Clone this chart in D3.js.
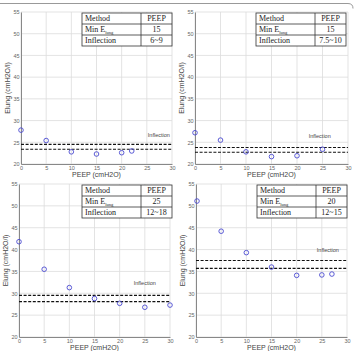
<!DOCTYPE html>
<html>
<head>
<meta charset="utf-8">
<script src="https://cdn.jsdelivr.net/npm/d3@7"></script>
<style>
  body { margin: 0; background: #fff; }
  svg { display: block; }
  .tick text { font-family: "Liberation Sans", Arial, sans-serif; font-size: 5.5px; fill: #666; }
  .title { font-family: "Liberation Sans", Arial, sans-serif; font-size: 7px; fill: #444; }
  .tbl { font-family: "Liberation Serif", "Times New Roman", serif; font-size: 8px; fill: #222; }
</style>
</head>
<body>
<svg id="chart" width="356" height="351"></svg>
<script>
// values
const xTicks = [0, 5, 10, 15, 20, 25, 30];
const yTicks = [20, 25, 30, 35, 40, 45, 50, 55];

const peep1 = [0, 5, 10, 15, 20, 22];
const elung1 = [27.8, 25.4, 22.8, 22.3, 22.6, 23.0];
const band1 = [24.5, 23.4];
const table1 = ["15", "6~9"];

const peep2 = [0, 5, 10, 15, 20, 25];
const elung2 = [27.2, 25.5, 22.8, 21.7, 21.9, 23.4];
const band2 = [23.8, 22.7];
const table2 = ["15", "7.5~10"];

const peep3 = [0, 5, 10, 15, 20, 25, 30];
const elung3 = [41.8, 35.5, 31.3, 28.8, 27.7, 26.8, 27.3];
const band3 = [29.5, 28.1];
const table3 = ["25", "12~18"];

const peep4 = [0.2, 5, 10, 15, 20, 25, 27];
const elung4 = [51.1, 44.2, 39.3, 36.0, 34.1, 34.2, 34.4];
const band4 = [37.5, 35.7];
const table4 = ["20", "12~15"];

// layout per panel: plot box + where "Inflection" sits (data units)
const panels = [
  { x0: 21, x1: 172, y0: 12, y1: 164, peep: peep1, elung: elung1, band: band1, table: table1, lab: [25.2, 26.3], tx: 82 },
  { x0: 195, x1: 348, y0: 12, y1: 164, peep: peep2, elung: elung2, band: band2, table: table2, lab: [22.3, 26.1], tx: 256 },
  { x0: 19, x1: 170, y0: 184, y1: 337, peep: peep3, elung: elung3, band: band3, table: table3, lab: [22.8, 31.9], tx: 82 },
  { x0: 196, x1: 347, y0: 184, y1: 337, peep: peep4, elung: elung4, band: band4, table: table4, lab: [24, 39.4], tx: 257 }
];

const svg = d3.select("#chart");

// outer frame line at the top
svg.append("path")
  .attr("d", "M0,3.5 H348 Q353,3.5 353,8.5")
  .attr("fill", "none").attr("stroke", "#999").attr("stroke-width", 1);

panels.forEach((p) => {
  const x = d3.scaleLinear().domain([0, 30]).range([p.x0, p.x1]);
  const y = d3.scaleLinear().domain([20, 55]).range([p.y1, p.y0]);
  const g = svg.append("g");

  // grid
  g.selectAll(".vg").data(xTicks).join("line")
    .attr("x1", (d) => x(d)).attr("x2", (d) => x(d))
    .attr("y1", p.y0).attr("y2", p.y1)
    .attr("stroke", "#dcdcdc").attr("stroke-width", 0.8);
  g.selectAll(".hg").data(yTicks).join("line")
    .attr("x1", p.x0).attr("x2", p.x1)
    .attr("y1", (d) => y(d)).attr("y2", (d) => y(d))
    .attr("stroke", "#dcdcdc").attr("stroke-width", 0.8);

  // axes
  const ax = g.append("g").attr("transform", `translate(0,${p.y1})`)
    .call(d3.axisBottom(x).tickValues(xTicks).tickSize(0).tickPadding(2));
  ax.select(".domain").attr("stroke", "#888");
  const ay = g.append("g").attr("transform", `translate(${p.x0},0)`)
    .call(d3.axisLeft(y).tickValues(yTicks).tickSize(0).tickPadding(1.5));
  ay.select(".domain").attr("stroke", "#888");

  g.append("text").attr("class", "title")
    .attr("x", (p.x0 + p.x1) / 2).attr("y", p.y1 + 13)
    .attr("text-anchor", "middle").text("PEEP (cmH2O)");
  g.append("text").attr("class", "title")
    .attr("transform", `translate(${p.x0 - 11},${(p.y0 + p.y1) / 2}) rotate(-90)`)
    .attr("text-anchor", "middle").text("Elung (cmH2O/l)");

  // inflection band
  g.selectAll(".band").data(p.band).join("line")
    .attr("x1", p.x0).attr("x2", p.x1)
    .attr("y1", (d) => y(d)).attr("y2", (d) => y(d))
    .attr("stroke", "#111").attr("stroke-width", 1.2)
    .attr("stroke-dasharray", "3,1.6");
  g.append("text").attr("class", "tick")
    .attr("x", x(p.lab[0])).attr("y", y(p.lab[1]))
    .style("font-family", "Liberation Sans, Arial, sans-serif")
    .style("font-size", "5.5px").style("fill", "#444")
    .text("Inflection");

  // points
  g.selectAll(".pt").data(p.peep).join("circle")
    .attr("cx", (d) => x(d)).attr("cy", (d, i) => y(p.elung[i]))
    .attr("r", 2.3).attr("fill", "none")
    .attr("stroke", "#4a4ad0").attr("stroke-width", 0.9);

  // table
  const tw = 90, rh = 11, c1 = 59;
  const ty = p.y0 + 1;
  const tg = g.append("g").attr("transform", `translate(${p.tx},${ty})`);
  tg.append("rect").attr("width", tw).attr("height", rh * 3)
    .attr("fill", "#fff").attr("stroke", "#333").attr("stroke-width", 0.8);
  [1, 2].forEach((r) => tg.append("line").attr("x1", 0).attr("x2", tw)
    .attr("y1", r * rh).attr("y2", r * rh).attr("stroke", "#333").attr("stroke-width", 0.8));
  tg.append("line").attr("x1", c1).attr("x2", c1).attr("y1", 0).attr("y2", rh * 3)
    .attr("stroke", "#333").attr("stroke-width", 0.8);

  const rowsL = ["Method", "Min E", "Inflection"];
  const rowsR = ["PEEP", p.table[0], p.table[1]];
  rowsL.forEach((t, i) => {
    const tx = tg.append("text").attr("class", "tbl").attr("x", 3).attr("y", i * rh + 8.3).text(t);
    if (i === 1) tx.append("tspan").attr("dy", 1.8).style("font-size", "4.5px").text("lung");
  });
  rowsR.forEach((t, i) => {
    tg.append("text").attr("class", "tbl").attr("x", (c1 + tw) / 2).attr("y", i * rh + 8.3)
      .attr("text-anchor", "middle").text(t);
  });
});
</script>
</body>
</html>
